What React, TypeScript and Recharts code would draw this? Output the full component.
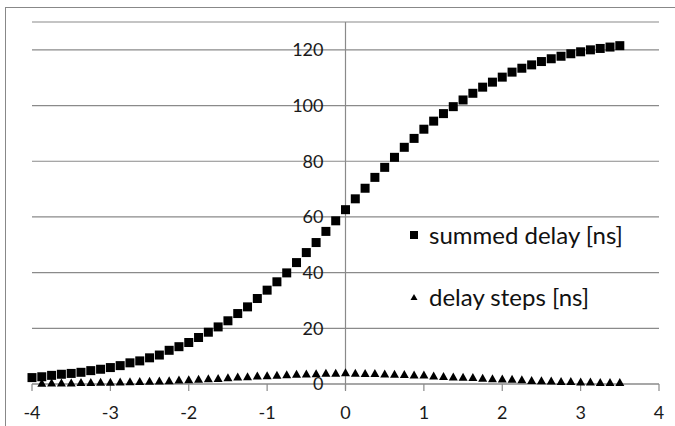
import {
  CartesianGrid,
  ReferenceLine,
  Scatter,
  ScatterChart,
  XAxis,
  YAxis,
} from "recharts";

const summedX = [
  -4, -3.875, -3.75, -3.625, -3.5, -3.375, -3.25, -3.125, -3, -2.875, -2.75, -2.625, -2.5,
  -2.375, -2.25, -2.125, -2, -1.875, -1.75, -1.625, -1.5, -1.375, -1.25, -1.125, -1, -0.875,
  -0.75, -0.625, -0.5, -0.375, -0.25, -0.125, 0, 0.125, 0.25, 0.375, 0.5, 0.625, 0.75, 0.875,
  1, 1.125, 1.25, 1.375, 1.5, 1.625, 1.75, 1.875, 2, 2.125, 2.25, 2.375, 2.5, 2.625, 2.75,
  2.875, 3, 3.125, 3.25, 3.375, 3.5,
];
const summedDelay = [
  2.3, 2.6, 3.1, 3.5, 3.8, 4.2, 4.8, 5.3, 5.9, 6.6, 7.6, 8.3, 9.4, 10.4, 12.1, 13.4, 14.9,
  16.7, 18.6, 20.5, 22.7, 25.3, 27.7, 30.7, 33.7, 36.7, 39.9, 43.6, 47.2, 50.8, 54.8, 58.6,
  62.6, 66.5, 70.3, 74.2, 77.8, 81.4, 85.0, 88.2, 91.5, 94.4, 97.1, 99.6, 102.0, 104.4, 106.6,
  108.4, 110.2, 112.0, 113.4, 114.6, 115.8, 116.8, 117.7, 118.6, 119.3, 120.0, 120.5, 121.0,
  121.5,
];

const stepX = [
  -3.875, -3.75, -3.625, -3.5, -3.375, -3.25, -3.125, -3, -2.875, -2.75, -2.625, -2.5, -2.375,
  -2.25, -2.125, -2, -1.875, -1.75, -1.625, -1.5, -1.375, -1.25, -1.125, -1, -0.875, -0.75,
  -0.625, -0.5, -0.375, -0.25, -0.125, 0, 0.125, 0.25, 0.375, 0.5, 0.625, 0.75, 0.875, 1,
  1.125, 1.25, 1.375, 1.5, 1.625, 1.75, 1.875, 2, 2.125, 2.25, 2.375, 2.5, 2.625, 2.75, 2.875,
  3, 3.125, 3.25, 3.375, 3.5,
];
const delaySteps = [
  0.3, 0.4, 0.4, 0.4, 0.5, 0.5, 0.6, 0.6, 0.7, 0.8, 0.9, 1.0, 1.1, 1.2, 1.4, 1.5, 1.7, 1.9,
  2.0, 2.2, 2.5, 2.6, 2.9, 3.0, 3.1, 3.3, 3.5, 3.6, 3.7, 3.9, 3.9, 4.0, 3.9, 3.8, 3.8, 3.6,
  3.5, 3.4, 3.2, 3.2, 2.9, 2.7, 2.5, 2.4, 2.3, 2.1, 1.9, 1.8, 1.7, 1.5, 1.3, 1.2, 1.1, 0.9,
  0.9, 0.7, 0.7, 0.5, 0.5, 0.5,
];

const xTicks = [-4, -3, -2, -1, 0, 1, 2, 3, 4];
const yTicks = [0, 20, 40, 60, 80, 100, 120];

const seriesNames = ["summed delay [ns]", "delay steps [ns]"];

const summedPoints = summedX.map((x, i) => ({ x, y: summedDelay[i] }));
const stepPoints = stepX.map((x, i) => ({ x, y: delaySteps[i] }));

const WIDTH = 675;
const HEIGHT = 426;
const MARGIN = { top: 22, right: 16, bottom: 0, left: 31 };
const Y_AXIS_W = 1;
const X_AXIS_H = 42;
const PLOT_LEFT = MARGIN.left + Y_AXIS_W;
// the value axis crosses at x = 0, in the middle of the plot
const AXIS_X = PLOT_LEFT + (WIDTH - PLOT_LEFT - MARGIN.right) / 2;

const GRID = "#8a8a8a";
const FONT = "Lato, 'Open Sans', sans-serif";

function SquareDot({ cx, cy }: { cx?: number; cy?: number }) {
  if (cx == null || cy == null) return null;
  return <rect x={cx - 4.5} y={cy - 4.5} width={9} height={9} fill="#000" />;
}

function TriangleDot({ cx, cy }: { cx?: number; cy?: number }) {
  if (cx == null || cy == null) return null;
  return <path d={`M${cx},${cy - 4.5} L${cx + 4.5},${cy + 3.5} L${cx - 4.5},${cy + 3.5} Z`} fill="#000" />;
}

function CenterYTick(props: { y?: number; payload?: { value: number } }) {
  const { y, payload } = props;
  return (
    <text
      x={AXIS_X - 22}
      y={y}
      dy="0.355em"
      textAnchor="end"
      fill="#1a1a1a"
      fontSize={18}
      fontFamily={FONT}
    >
      {payload?.value}
    </text>
  );
}

function ChartLegend() {
  const row = { display: "flex", alignItems: "center", height: 30 } as const;
  return (
    <div
      style={{
        position: "absolute",
        left: 406,
        top: 220,
        fontFamily: FONT,
        fontSize: 24,
        color: "#111",
        lineHeight: "30px",
        whiteSpace: "nowrap",
      }}
    >
      <div style={row}>
        <svg width={23} height={30}>
          <rect x={4} y={11} width={8} height={8} fill="#000" />
        </svg>
        <span>{seriesNames[0]}</span>
      </div>
      <div style={{ ...row, marginTop: 32 }}>
        <svg width={23} height={30}>
          <path d="M8,12 L11.5,18 L4.5,18 Z" fill="#000" />
        </svg>
        <span>{seriesNames[1]}</span>
      </div>
    </div>
  );
}

export default function App() {
  return (
    <div
      style={{
        position: "absolute",
        left: 0,
        top: 0,
        width: WIDTH,
        height: HEIGHT,
        background: "#fff",
        overflow: "hidden",
      }}
    >
      <div
        style={{
          position: "absolute",
          left: 5,
          top: 7,
          width: WIDTH,
          height: HEIGHT,
          borderLeft: "1px solid #888",
          borderTop: "1px solid #888",
        }}
      />
      <ScatterChart width={WIDTH} height={HEIGHT} margin={MARGIN}>
        <CartesianGrid vertical={false} stroke={GRID} strokeWidth={1.2} />
        <XAxis
          type="number"
          dataKey="x"
          domain={[-4, 4]}
          ticks={xTicks}
          interval={0}
          stroke={GRID}
          axisLine={{ stroke: GRID, strokeWidth: 1.2 }}
          tickLine={{ stroke: GRID, strokeWidth: 1.2 }}
          tickSize={7}
          tickMargin={15}
          tick={{ fill: "#1a1a1a", fontSize: 18, fontFamily: FONT }}
          height={X_AXIS_H}
        />
        <YAxis
          type="number"
          dataKey="y"
          domain={[0, 130]}
          ticks={yTicks}
          interval={0}
          width={Y_AXIS_W}
          axisLine={false}
          tickLine={false}
          tick={CenterYTick}
        />
        <ReferenceLine
          stroke={GRID}
          strokeWidth={1.2}
          segment={[{ x: 0, y: -2 }, { x: 0, y: 130 }]}
          ifOverflow="visible"
        />
        <Scatter
          name={seriesNames[0]}
          data={summedPoints}
          shape={SquareDot}
          isAnimationActive={false}
        />
        <Scatter
          name={seriesNames[1]}
          data={stepPoints}
          shape={TriangleDot}
          isAnimationActive={false}
        />
      </ScatterChart>
      <ChartLegend />
    </div>
  );
}
